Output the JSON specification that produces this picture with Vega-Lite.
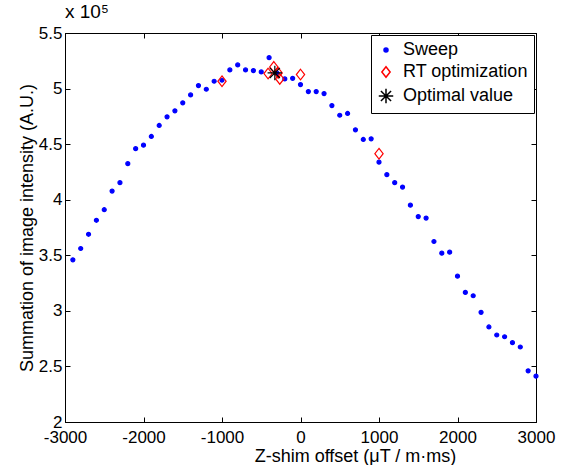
{
  "$schema": "https://vega.github.io/schema/vega-lite/v6.json",
  "width": 471,
  "height": 389,
  "autosize": "none",
  "padding": {"left": 65, "top": 33, "right": 35, "bottom": 43},
  "background": "white",
  "view": {"stroke": "#000000", "strokeWidth": 1, "fill": null},
  "config": {
    "font": "Liberation Sans",
    "axis": {"grid": false, "domain": true, "ticks": true, "domainColor": "#000000", "tickColor": "#000000", "labelColor": "black", "titleColor": "black", "labelFont": "Liberation Sans", "titleFont": "Liberation Sans", "labelFontSize": 17, "titleFontSize": 18, "titleFontWeight": "normal", "tickSize": -5, "domainWidth": 1, "tickWidth": 1, "labelOverlap": false, "labelFlush": false}
  },
  "title": {"text": "x 10⁵", "anchor": "start", "frame": "group", "fontSize": 19, "fontWeight": "normal", "font": "Liberation Sans", "offset": 2, "color": "black"},
  "data": {"values": [
    {"x": -2900, "y": 345900, "series": "Sweep"},
    {"x": -2800, "y": 356100, "series": "Sweep"},
    {"x": -2700, "y": 368900, "series": "Sweep"},
    {"x": -2600, "y": 381500, "series": "Sweep"},
    {"x": -2500, "y": 391000, "series": "Sweep"},
    {"x": -2400, "y": 407800, "series": "Sweep"},
    {"x": -2300, "y": 415300, "series": "Sweep"},
    {"x": -2200, "y": 432400, "series": "Sweep"},
    {"x": -2100, "y": 445900, "series": "Sweep"},
    {"x": -2000, "y": 449100, "series": "Sweep"},
    {"x": -1900, "y": 456900, "series": "Sweep"},
    {"x": -1800, "y": 466800, "series": "Sweep"},
    {"x": -1700, "y": 474600, "series": "Sweep"},
    {"x": -1600, "y": 480000, "series": "Sweep"},
    {"x": -1500, "y": 487200, "series": "Sweep"},
    {"x": -1400, "y": 494300, "series": "Sweep"},
    {"x": -1300, "y": 502700, "series": "Sweep"},
    {"x": -1200, "y": 499400, "series": "Sweep"},
    {"x": -1100, "y": 506600, "series": "Sweep"},
    {"x": -1000, "y": 507500, "series": "Sweep"},
    {"x": -900, "y": 516800, "series": "Sweep"},
    {"x": -800, "y": 521300, "series": "Sweep"},
    {"x": -700, "y": 516800, "series": "Sweep"},
    {"x": -600, "y": 516200, "series": "Sweep"},
    {"x": -500, "y": 515000, "series": "Sweep"},
    {"x": -400, "y": 527800, "series": "Sweep"},
    {"x": -300, "y": 514000, "series": "Sweep"},
    {"x": -200, "y": 508700, "series": "Sweep"},
    {"x": -100, "y": 509200, "series": "Sweep"},
    {"x": 0, "y": 503600, "series": "Sweep"},
    {"x": 100, "y": 497300, "series": "Sweep"},
    {"x": 200, "y": 497300, "series": "Sweep"},
    {"x": 300, "y": 495500, "series": "Sweep"},
    {"x": 400, "y": 484700, "series": "Sweep"},
    {"x": 500, "y": 476000, "series": "Sweep"},
    {"x": 600, "y": 477600, "series": "Sweep"},
    {"x": 700, "y": 462900, "series": "Sweep"},
    {"x": 800, "y": 454200, "series": "Sweep"},
    {"x": 900, "y": 454800, "series": "Sweep"},
    {"x": 1000, "y": 433800, "series": "Sweep"},
    {"x": 1100, "y": 422500, "series": "Sweep"},
    {"x": 1200, "y": 415300, "series": "Sweep"},
    {"x": 1300, "y": 411400, "series": "Sweep"},
    {"x": 1400, "y": 395100, "series": "Sweep"},
    {"x": 1500, "y": 384800, "series": "Sweep"},
    {"x": 1600, "y": 383500, "series": "Sweep"},
    {"x": 1700, "y": 362400, "series": "Sweep"},
    {"x": 1800, "y": 351900, "series": "Sweep"},
    {"x": 1900, "y": 352800, "series": "Sweep"},
    {"x": 2000, "y": 331200, "series": "Sweep"},
    {"x": 2100, "y": 316600, "series": "Sweep"},
    {"x": 2200, "y": 313600, "series": "Sweep"},
    {"x": 2300, "y": 298700, "series": "Sweep"},
    {"x": 2400, "y": 285500, "series": "Sweep"},
    {"x": 2500, "y": 278300, "series": "Sweep"},
    {"x": 2600, "y": 276700, "series": "Sweep"},
    {"x": 2700, "y": 271400, "series": "Sweep"},
    {"x": 2800, "y": 267500, "series": "Sweep"},
    {"x": 2900, "y": 246000, "series": "Sweep"},
    {"x": 3000, "y": 241200, "series": "Sweep"},
    {"x": -1000, "y": 506600, "series": "RT optimization"},
    {"x": -413, "y": 513500, "series": "RT optimization"},
    {"x": -340, "y": 519500, "series": "RT optimization"},
    {"x": -285, "y": 514100, "series": "RT optimization"},
    {"x": -264, "y": 508700, "series": "RT optimization"},
    {"x": 0, "y": 512600, "series": "RT optimization"},
    {"x": 1000, "y": 441400, "series": "RT optimization"},
    {"x": -327, "y": 514100, "series": "Optimal value"}
  ]},
  "layer": [
    {
      "mark": {"type": "point", "opacity": 1, "strokeWidth": 1.2},
      "encoding": {
        "x": {"field": "x", "type": "quantitative", "scale": {"domain": [-3000, 3000], "nice": false, "zero": false},
          "axis": {"orient": "bottom", "values": [-3000, -2000, -1000, 0, 1000, 2000, 3000], "labelExpr": "'' + datum.value", "labelPadding": 12, "title": "Z-shim offset  (μT / m·ms)", "titlePadding": 2, "titleX": 290}},
        "y": {"field": "y", "type": "quantitative", "scale": {"domain": [200000, 550000], "nice": false, "zero": false},
          "axis": {"orient": "left", "values": [200000, 250000, 300000, 350000, 400000, 450000, 500000, 550000], "labelExpr": "datum.value / 100000", "labelPadding": 8, "title": "Summation of image intensity (A.U.)", "titlePadding": 2}},
        "shape": {"field": "series", "type": "nominal", "scale": {"domain": ["Sweep", "RT optimization", "Optimal value"], "range": ["circle", "M0,-1L0.78,0L0,1L-0.78,0Z", "M-1,0L1,0M0,-1L0,1M-0.7,-0.7L0.7,0.7M-0.7,0.7L0.7,-0.7"]}, "legend": {"title": null}},
        "stroke": {"field": "series", "type": "nominal", "scale": {"domain": ["Sweep", "RT optimization", "Optimal value"], "range": ["#0000ff", "#ff0000", "#000000"]}, "legend": {"title": null}},
        "fill": {"field": "series", "type": "nominal", "scale": {"domain": ["Sweep", "RT optimization", "Optimal value"], "range": ["#0000ff", "transparent", "transparent"]}, "legend": {"title": null}},
        "size": {"field": "series", "type": "nominal", "scale": {"domain": ["Sweep", "RT optimization", "Optimal value"], "range": [16, 210, 110]}, "legend": {"title": null, "orient": "top-right", "offset": 2, "strokeColor": "black", "fillColor": "white", "padding": 6, "rowPadding": 4, "labelFontSize": 18, "labelFont": "Liberation Sans", "labelColor": "black", "labelOffset": 8}}
      }
    },
    {
      "mark": {"type": "point", "opacity": 0},
      "encoding": {
        "x": {"field": "x", "type": "quantitative", "axis": {"orient": "top", "values": [-3000, -2000, -1000, 0, 1000, 2000, 3000], "labels": false, "title": null}},
        "y": {"field": "y", "type": "quantitative", "axis": {"orient": "right", "values": [200000, 250000, 300000, 350000, 400000, 450000, 500000, 550000], "labels": false, "title": null}}
      }
    }
  ]
}
